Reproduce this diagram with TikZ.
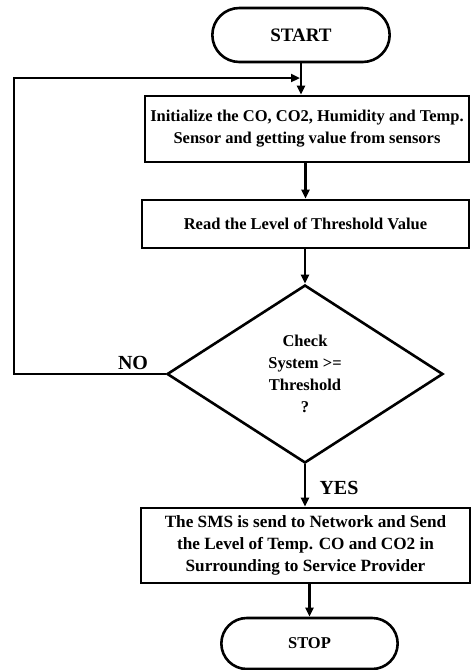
\documentclass[tikz,border=0pt]{standalone}
\usepackage{fontspec}
\setmainfont{Liberation Serif}
\usetikzlibrary{shapes.geometric,shapes.misc,arrows.meta}
\tikzset{
  terminal/.style={draw, rounded rectangle, line width=2.6pt,
    minimum width=184pt, minimum height=54pt},
  process/.style={draw, rectangle, line width=2.6pt, align=center, inner sep=2pt},
  decision/.style={draw, diamond, line width=2.6pt, align=center,
    minimum width=276pt, minimum height=178pt, inner sep=0pt},
  flow/.style={line width=2.6pt, -{Triangle[length=9pt,width=8pt]}},
  answer/.style={font=\fontsize{20}{24}\selectfont\bfseries},
}

\begin{document}
\begin{tikzpicture}[x=1pt, y=-1pt, font=\fontsize{16.5}{22}\selectfont\bfseries]
    \useasboundingbox (0,0) rectangle (471,670);

    % blocks of the flow
    \node [terminal, font=\fontsize{19}{22}\selectfont\bfseries] (start) at (301,35) {START};
    \node [process, minimum width=324pt, minimum height=66pt] (init) at (307,129)
      {Initialize the CO, CO2, Humidity and Temp.\\Sensor and getting value from sensors};
    \node [process, minimum width=327pt, minimum height=48pt] (read) at (305.5,224)
      {Read the Level of Threshold Value};
    \node [decision] (check) at (305,374) {Check\\System >=\\Threshold\\?};
    \node [process, minimum width=329pt, minimum height=75pt,
      font=\fontsize{17.2}{22}\selectfont\bfseries] (send) at (305.5,545.5)
      {The SMS is send to Network and Send\\the Level of Temp. CO and CO2 in\\Surrounding to Service Provider};
    \node [terminal, minimum width=183pt, minimum height=51pt] (stop) at (309.5,643.5) {STOP};

    % coordinates of the loop back
    \coordinate (corner) at (14,78);
    \coordinate (join) at (start.south |- corner);

    % connectors
    \draw [flow] (start.south) -- (start.south |- init.north);
    \draw [flow] (init.south -| read.north) -- (read.north);
    \draw [flow] (read.south -| check.north) -- (check.north);
    \draw [flow] (check.south) -- (check.south |- send.north);
    \draw [flow] (send.south -| stop.north) -- (stop.north);
    \draw [flow] (check.west) -| (corner) -- ([xshift=-1pt]join);

    % answers
    \node [answer] (no) at (133,363) {NO};
    \node [answer] (yes) at (339,488) {YES};
\end{tikzpicture}
\end{document}
